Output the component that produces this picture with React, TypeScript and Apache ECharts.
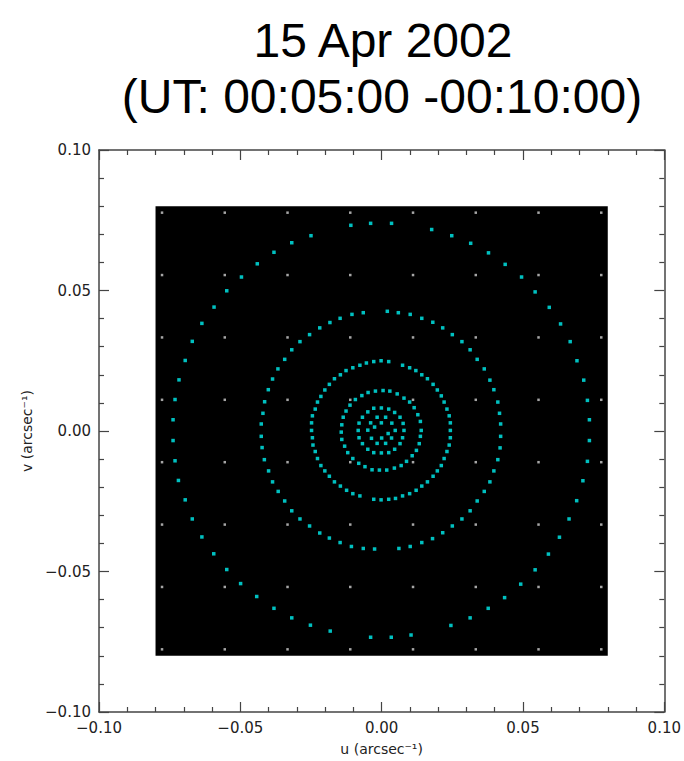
import React, { useEffect, useRef } from "react";
import * as echarts from "echarts";

// ---- texts ----
const titleLine1 = "15 Apr 2002";
const titleLine2 = "(UT: 00:05:00 -00:10:00)";
const xAxisName = "u (arcsec\u207B\u00B9)";
const yAxisName = "v (arcsec\u207B\u00B9)";

// ---- axes ----
const axisMin = -0.1;
const axisMax = 0.1;
const majorStep = 0.05;

// ---- black field of view (arcsec^-1) ----
const fieldHalf = 0.08;

// ---- reference grid dots inside the field ----
const gridDotPos = [-0.0777, -0.0555, -0.0333, -0.0111, 0.0111, 0.0333, 0.0555, 0.0777];

// ---- uv points [u, v] ----
const ring1: [number, number][] = [
  [-0.0039, 0.0739], [-0.0109, 0.0732], [-0.025, 0.0695], [-0.0318, 0.067], [-0.0381, 0.0636],
  [-0.044, 0.0595], [-0.0496, 0.0548], [-0.0548, 0.0499], [-0.0593, 0.0441], [-0.0636, 0.0383],
  [-0.067, 0.0319], [-0.0695, 0.0251], [-0.0717, 0.0182], [-0.0731, 0.0112], [-0.0738, 0.004],
  [0.0035, 0.0739], [0.0177, 0.0717], [0.0248, 0.0695], [0.0315, 0.0668], [0.0378, 0.0634],
  [0.0437, 0.0593], [0.0495, 0.0548], [0.0543, 0.0495], [0.0593, 0.044], [0.0633, 0.0381],
  [0.0667, 0.0318], [0.0691, 0.025], [0.0715, 0.0181], [0.0728, 0.0109], [0.0735, 0.004],
  [-0.0738, -0.0034], [-0.0731, -0.0106], [-0.0719, -0.0176], [-0.0695, -0.0245], [-0.067, -0.0313],
  [-0.0636, -0.0377], [-0.0594, -0.0437], [-0.0548, -0.0493], [-0.0499, -0.0543], [-0.0442, -0.0589],
  [-0.0381, -0.0631], [-0.0318, -0.0665], [-0.0252, -0.0691], [-0.0182, -0.0712], [-0.0039, -0.0734],
  [0.0735, -0.0034], [0.0728, -0.0108], [0.0712, -0.0177], [0.069, -0.0248], [0.0663, -0.0313],
  [0.0629, -0.0378], [0.059, -0.0438], [0.0543, -0.0494], [0.0492, -0.0545], [0.0435, -0.0593],
  [0.0377, -0.0631], [0.0313, -0.0665], [0.0245, -0.0692], [0.0104, -0.0726], [0.0034, -0.0734],
];

const ring2: [number, number][] = [
  [-0.0065, 0.0421], [-0.0105, 0.0415], [-0.0147, 0.0401], [-0.0183, 0.0386], [-0.0219, 0.0367],
  [-0.0255, 0.0343], [-0.0289, 0.0318], [-0.0318, 0.0289], [-0.0343, 0.0255], [-0.0367, 0.0221],
  [-0.0386, 0.0185], [-0.0401, 0.0147], [-0.0414, 0.0104], [-0.042, 0.0063], [-0.0426, 0.0025],
  [0.002, 0.0426], [0.0059, 0.0421], [0.0101, 0.0415], [0.0142, 0.0401], [0.0181, 0.0387],
  [0.0216, 0.0367], [0.025, 0.0343], [0.0284, 0.0318], [0.0313, 0.0289], [0.0338, 0.0255],
  [0.0363, 0.0221], [0.0383, 0.0181], [0.0397, 0.0147], [0.0411, 0.0103], [0.0417, 0.0063],
  [0.0421, 0.0025],
  [-0.0426, -0.0019], [-0.0423, -0.0059], [-0.0415, -0.0102], [-0.04, -0.0142], [-0.0386, -0.0181],
  [-0.0366, -0.0215], [-0.0343, -0.0249], [-0.0318, -0.0284], [-0.0289, -0.0313], [-0.0255, -0.0338],
  [-0.0219, -0.0363], [-0.0185, -0.0381], [-0.0147, -0.0397], [-0.0107, -0.0411], [-0.0065, -0.0418],
  [-0.0025, -0.042],
  [0.0421, -0.0019], [0.0419, -0.006], [0.0411, -0.0102], [0.0397, -0.0142], [0.0383, -0.0181],
  [0.0363, -0.0215], [0.0338, -0.0249], [0.0313, -0.0284], [0.0284, -0.0313], [0.025, -0.0338],
  [0.0216, -0.0362], [0.018, -0.0383], [0.0142, -0.0397], [0.0101, -0.0411], [0.0061, -0.0418],
];

const ring3: [number, number][] = [
  [-0.0054, 0.0242], [-0.0028, 0.0247], [-0.0002, 0.025], [0.0025, 0.0247], [0.0074, 0.0234],
  [0.0099, 0.0225], [0.0121, 0.0215], [0.0142, 0.02], [0.0162, 0.0186], [0.0182, 0.0166],
  [0.0197, 0.0146], [0.0211, 0.0125], [0.0221, 0.0103], [0.0231, 0.0078], [0.0239, 0.0054],
  [0.0243, 0.0029], [0.0243, 0.0002], [0.0243, -0.0024], [0.0239, -0.005], [0.0231, -0.0073],
  [0.0221, -0.0098], [0.0211, -0.0123], [0.0197, -0.0142], [0.0182, -0.0161], [0.0162, -0.0181],
  [0.0142, -0.0196], [0.0122, -0.0211], [0.0099, -0.0223], [0.0074, -0.0231], [0.0049, -0.024],
  [0.0025, -0.0243], [-0.0002, -0.0245], [-0.0028, -0.0243], [-0.0077, -0.0231], [-0.0102, -0.0223],
  [-0.0124, -0.0211], [-0.0146, -0.0196], [-0.0167, -0.0181], [-0.0185, -0.0161], [-0.0201, -0.0142],
  [-0.0215, -0.0123], [-0.0227, -0.0098], [-0.0235, -0.0073], [-0.0243, -0.005], [-0.0245, -0.0024],
  [-0.0248, 0.0002], [-0.0248, 0.0029], [-0.0245, 0.0054], [-0.0235, 0.0078], [-0.0227, 0.0103],
  [-0.0215, 0.0123], [-0.0201, 0.0146], [-0.0185, 0.0166], [-0.0167, 0.0186], [-0.0146, 0.02],
  [-0.0126, 0.0215], [-0.0102, 0.0225], [-0.0077, 0.0234],
];

const ring4: [number, number][] = [
  [-0.0022, 0.0142], [0.0005, 0.0144], [0.0029, 0.0142], [0.0055, 0.0132], [0.0079, 0.0117],
  [0.0099, 0.0103], [0.0115, 0.0083], [0.0128, 0.0058], [0.0137, 0.0034], [0.014, 0.0002],
  [0.0137, -0.0019], [0.0133, -0.0045], [0.0123, -0.0069], [0.0108, -0.0088], [0.0088, -0.0108],
  [0.0069, -0.0123], [0.0045, -0.0132], [0.0018, -0.0139], [-0.0008, -0.0139], [-0.0034, -0.0138],
  [-0.0059, -0.0127], [-0.0081, -0.0115], [-0.0102, -0.0098], [-0.012, -0.0077], [-0.0131, -0.0054],
  [-0.0141, -0.003], [-0.0143, -0.0004], [-0.0141, 0.0022], [-0.0136, 0.0049], [-0.0126, 0.0071],
  [-0.0112, 0.0092], [-0.0093, 0.0112], [-0.007, 0.0126], [-0.0048, 0.0137],
];

const ring5: [number, number][] = [
  [-0.0028, 0.0081], [-0.0001, 0.0082], [0.0025, 0.0078], [-0.0049, 0.0068], [0.0046, 0.0066],
  [-0.0068, 0.0049], [0.0065, 0.0049], [-0.008, 0.0028], [0.0076, 0.0027], [-0.0083, 0.0002],
  [0.0079, 0.0002], [-0.008, -0.0024], [0.0074, -0.0024], [-0.0068, -0.0045], [0.0065, -0.0045],
  [-0.0049, -0.0065], [0.0046, -0.0065], [-0.0028, -0.0077], [-0.0001, -0.0078], [0.0025, -0.0077],
];

const ring6: [number, number][] = [
  [-0.0016, 0.0049], [0.0014, 0.0049], [-0.0039, 0.0029], [0.0036, 0.0028], [-0.0049, 0.0003],
  [0.0048, 0.0002], [-0.0036, -0.0026], [0.0035, -0.0025], [-0.0016, -0.0044], [0.0014, -0.0044],
];

const ring7: [number, number][] = [
  [-0.0001, 0.0029], [-0.0025, 0.0014], [0.0023, -0.0009], [0.0, -0.0025],
];

const uvRings = [ring1, ring2, ring3, ring4, ring5, ring6, ring7];

const fmt = (v: number) => {
  const s = Math.abs(v).toFixed(2);
  return v < -1e-9 ? "\u2212" + s : s;
};

export default function App() {
  const ref = useRef<HTMLDivElement>(null);

  useEffect(() => {
    if (!ref.current) return;
    const chart = echarts.init(ref.current, undefined, { renderer: "svg" });

    const axisColor = "#444";
    const labelFont = "'DejaVu Sans', 'Liberation Sans', sans-serif";
    const titleFont = "'Liberation Sans', Arial, Helvetica, sans-serif";

    const baseAxis = (pos: string, showLabel: boolean, name: string, nameGap: number) => ({
      type: "value",
      min: axisMin,
      max: axisMax,
      interval: majorStep,
      position: pos,
      name,
      nameLocation: "middle",
      nameGap,
      nameTextStyle: { fontFamily: labelFont, fontSize: 14, color: "#222" },
      axisLine: { show: true, onZero: false, lineStyle: { color: axisColor, width: 1.5 } },
      axisTick: { show: true, inside: true, length: 10, lineStyle: { color: axisColor, width: 1.2 } },
      minorTick: { show: true, splitNumber: 5, length: 5, lineStyle: { color: axisColor, width: 1.2 } },
      splitLine: { show: false },
      minorSplitLine: { show: false },
      axisLabel: {
        show: showLabel,
        formatter: fmt,
        fontFamily: labelFont,
        fontSize: 15,
        color: "#222",
        margin: 8,
      },
    });

    const dots: [number, number][] = [];
    gridDotPos.forEach((x) => gridDotPos.forEach((y) => dots.push([x, y])));

    const titleStyle = (text: string) => ({
      text,
      font: `48px ${titleFont}`,
      fill: "#000",
      textAlign: "center",
      textVerticalAlign: "middle",
      align: "center",
      verticalAlign: "middle",
    });

    const option: any = {
      animation: false,
      backgroundColor: "#fff",
      grid: { left: 99, top: 150, right: 17, bottom: 44, containLabel: false },
      xAxis: [baseAxis("bottom", true, xAxisName, 30), baseAxis("top", false, "", 0)],
      yAxis: [baseAxis("left", true, yAxisName, 56), baseAxis("right", false, "", 0)],
      graphic: [
        { type: "text", x: 383, y: 40, style: titleStyle(titleLine1) },
        { type: "text", x: 382, y: 96, style: titleStyle(titleLine2) },
      ],
      series: [
        {
          type: "custom",
          silent: true,
          z: 1,
          data: [[-fieldHalf, fieldHalf, fieldHalf, -fieldHalf]],
          renderItem: (params: any, api: any) => {
            const p1 = api.coord([api.value(0), api.value(1)]);
            const p2 = api.coord([api.value(2), api.value(3)]);
            return {
              type: "rect",
              shape: { x: p1[0], y: p1[1], width: p2[0] - p1[0], height: p2[1] - p1[1] },
              style: { fill: "#000" },
            };
          },
        },
        {
          type: "scatter",
          silent: true,
          z: 2,
          symbol: "rect",
          symbolSize: 2.5,
          itemStyle: { color: "#d0d0d0" },
          data: dots,
        },
        ...uvRings.map((ring) => ({
          type: "scatter",
          silent: true,
          z: 3,
          symbol: "rect",
          symbolSize: 3.5,
          itemStyle: { color: "#00f0f0" },
          data: ring,
        })),
      ],
    };

    chart.setOption(option);
    return () => chart.dispose();
  }, []);

  return (
    <div
      ref={ref}
      style={{ position: "absolute", left: 0, top: 0, width: 684, height: 761, background: "#fff" }}
    />
  );
}
